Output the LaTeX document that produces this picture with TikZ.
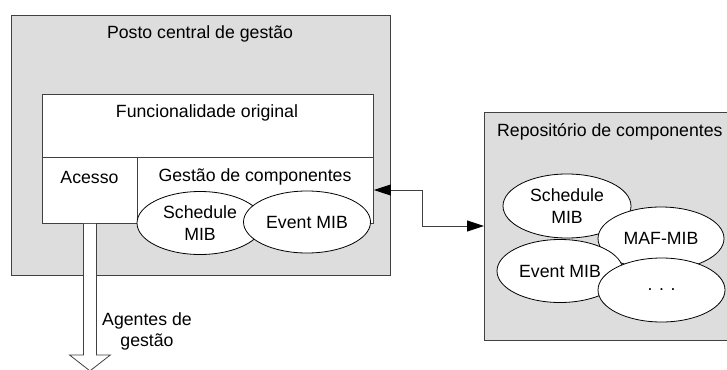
\documentclass[tikz,border=0pt]{standalone}
\usepackage{fontspec}
\setmainfont{Liberation Sans}
\usetikzlibrary{shapes.geometric,arrows.meta,calc}
\definecolor{boxgray}{HTML}{DDDDDD}
\definecolor{linegray}{HTML}{404040}
\begin{document}
\begin{tikzpicture}[x=1pt,y=-1pt,
  font=\fontsize{17.7}{21.2}\selectfont,
  outerbox/.style={draw=linegray,fill=boxgray,line width=1pt,anchor=north west,inner sep=0pt},
  innerbox/.style={draw=linegray,fill=white,line width=0.9pt,anchor=north west,inner sep=0pt},
  mib/.style={ellipse,draw=black,fill=white,line width=0.8pt,inner sep=0pt,minimum width=126pt,minimum height=63pt,align=center},
  lbl/.style={inner sep=0pt,align=center},
  biarrow/.style={draw=linegray,line width=0.9pt,{Triangle[length=17pt,width=11pt,fill=black,color=black]}-{Triangle[length=17pt,width=11pt,fill=black,color=black]}}
]
\useasboundingbox (0,0) rectangle (727,369);
\clip (0,0) rectangle (727,369);
% central post
\node[outerbox,minimum width=379pt,minimum height=260pt] (posto) at (11,15) {};
\node[lbl] (postot) at (200,34) {Posto central de gestão};
\node[innerbox,minimum width=331pt,minimum height=63pt] (func) at (42,94) {};
\node[lbl] (funct) at (207,113) {Funcionalidade original};
\node[innerbox,minimum width=95pt,minimum height=66pt] (acesso) at (42,157) {};
\node[lbl] (acessot) at (89.5,177) {Acesso};
\node[innerbox,minimum width=236pt,minimum height=66pt] (gestao) at (137,157) {};
\node[lbl] (gestaot) at (255,177) {Gestão de componentes};
\node[mib] (sched1) at (200,223) {Schedule\\MIB};
\node[mib,minimum width=127pt,minimum height=62pt] (event1) at (307,222) {Event MIB};
% repository
\node[outerbox,minimum width=260pt,minimum height=228pt] (repo) at (484,112) {};
\node[lbl,anchor=west] (repot) at (497,132) {Repositório de componentes};
\node[mib,minimum height=64pt,minimum width=128pt] (sched2) at (567,206) {Schedule\\MIB};
\node[mib] (maf) at (661,238.5) {MAF-MIB};
\node[mib] (event2) at (560,271) {Event MIB};
\node[mib,minimum width=127pt,minimum height=64pt] (dots) at (661.5,290) {. . .};
% bidirectional connector
\coordinate (cg) at (gestao.east |- 0,190);
\coordinate (cr) at (repo.west |- 0,226);
\draw[biarrow] (cg) -- (422,190) |- (cr);
% hollow arrow to agents
\coordinate (ha) at (acesso.south);
\draw[draw=linegray,fill=white,line width=0.8pt]
  ($(ha)+(-6.5,0)$) -- ($(ha)+(-6.5,131)$) -- ($(ha)+(-20.5,131)$) -- ($(ha)+(0,147)$)
  -- ($(ha)+(20.5,131)$) -- ($(ha)+(6.5,131)$) -- ($(ha)+(6.5,0)$);
\node[lbl] (agentes) at (147,331.5) {Agentes de\\gestão};
\end{tikzpicture}
\end{document}
